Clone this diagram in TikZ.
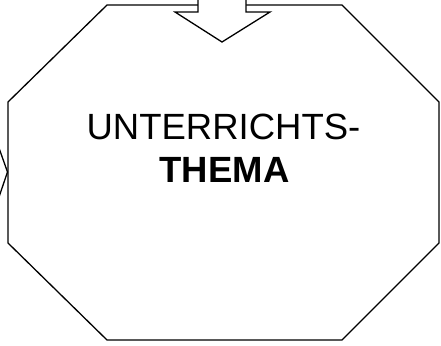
\documentclass[tikz,border=0pt]{standalone}
\usepackage{fontspec}
\setmainfont{Liberation Sans}
\begin{document}
\begin{tikzpicture}[x=1pt,y=-1pt,line join=miter,
  outline/.style={draw=black,line width=1.3pt,fill=white}]
\useasboundingbox (0,0) rectangle (441,345);
% octagon
\draw[outline] (107,5) -- (342,5) -- (439,102) -- (439,243) -- (342,340)
  -- (107,340) -- (8,243) -- (8,102) -- cycle;
% down arrow entering from top
\draw[outline] (198,-5) -- (198,12) -- (175,12) -- (222,42) -- (270,12)
  -- (246,12) -- (246,-5);
% left arrow tip
\draw[black,line width=1.3pt] (-1,148) -- (7.5,172) -- (-1,197);
% text
\node[anchor=base,font=\fontsize{36.5}{43}\selectfont,inner sep=0pt] (l1) at (223.5,139) {UNTERRICHTS-};
\node[anchor=base,font=\fontsize{36.5}{43}\selectfont\bfseries,inner sep=0pt] (thema) at (224.5,182) {THEMA};
\end{tikzpicture}
\end{document}
